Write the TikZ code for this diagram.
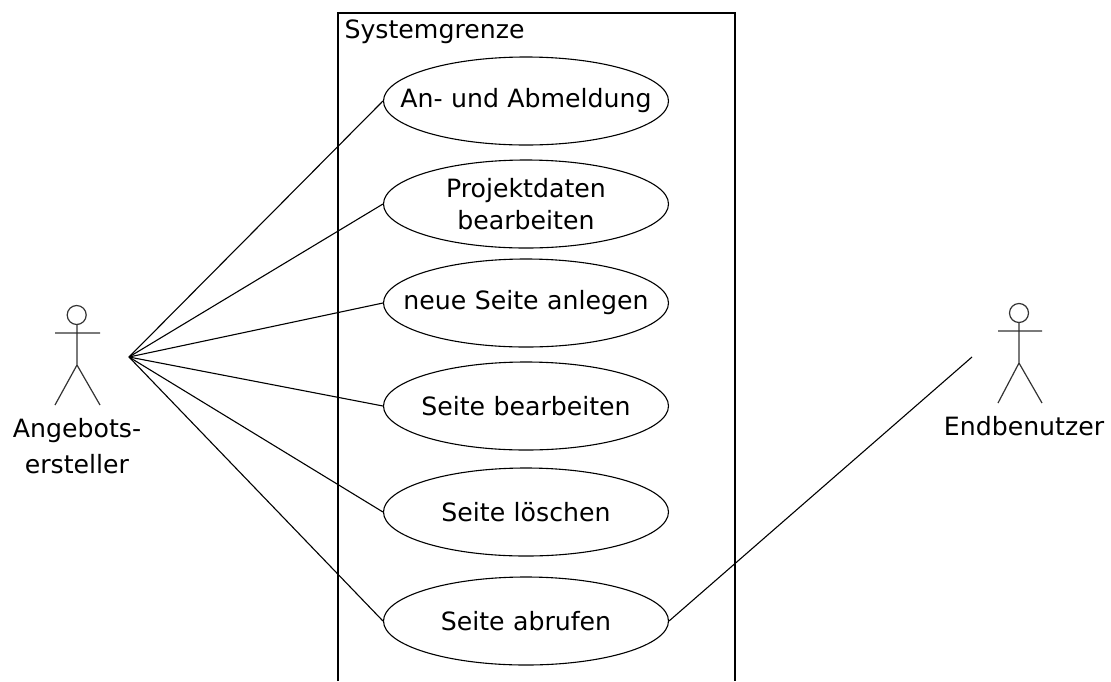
\documentclass[tikz,border=0pt]{standalone}
\usepackage{fontspec}
\setmainfont{DejaVu Sans}
\usetikzlibrary{shapes.geometric}
\tikzset{
    usecase/.style={draw, ellipse, inner xsep=-40pt, inner ysep=-12pt, text width=270pt, minimum width=285pt, minimum height=88pt, align=center, font=\fontsize{25.2}{32}\selectfont},
    actorlabel/.style={inner sep=0pt, align=center, font=\fontsize{25.2}{36}\selectfont},
    figure/.style={line width=1.2pt, black!80}
}
\begin{document}
\begin{tikzpicture}[x=1pt,y=-1pt,line width=1.1pt]
    \useasboundingbox (0,0) rectangle (1111,681);
    %system boundary
    \draw (338,681) -- (338,13) -- (735,13) -- (735,681);
    \node (grenze) [actorlabel, anchor=west] at (344,32) {Systemgrenze};

    %use cases
    \node (abmeldung) [usecase] at (526,101) {An- und Abmeldung};
    \node (projekt) [usecase] at (526,204) {Projektdaten\\bearbeiten};
    \node (anlegen) [usecase] at (526,303) {neue Seite anlegen};
    \node (bearbeiten) [usecase] at (526,406) {Seite bearbeiten};
    \node (loeschen) [usecase] at (526,512) {Seite löschen};
    \node (abrufen) [usecase] at (526,621) {Seite abrufen};

    %left actor
    \coordinate (ersteller) at (129,357);
    \draw[figure] (76.7,315) circle (9.5);
    \draw[figure] (77,324.5) -- (77,365) (55,333) -- (100,333) (77,365) -- (55,405) (77,365) -- (100,405);
    \node (angebot) [actorlabel] at (77,446) {Angebots-\\ersteller};

    %right actor
    \coordinate (benutzer) at (972,357);
    \draw[figure] (1019,313) circle (9.5);
    \draw[figure] (1019,322.5) -- (1019,363) (998,331) -- (1042,331) (1019,363) -- (998,403) (1019,363) -- (1042,403);
    \node (endbenutzer) [actorlabel] at (1024,426) {Endbenutzer};

    %connectors
    \draw (ersteller) -- (abmeldung.west);
    \draw (ersteller) -- (projekt.west);
    \draw (ersteller) -- (anlegen.west);
    \draw (ersteller) -- (bearbeiten.west);
    \draw (ersteller) -- (loeschen.west);
    \draw (ersteller) -- (abrufen.west);
    \draw (benutzer) -- (abrufen.east);
\end{tikzpicture}
\end{document}
